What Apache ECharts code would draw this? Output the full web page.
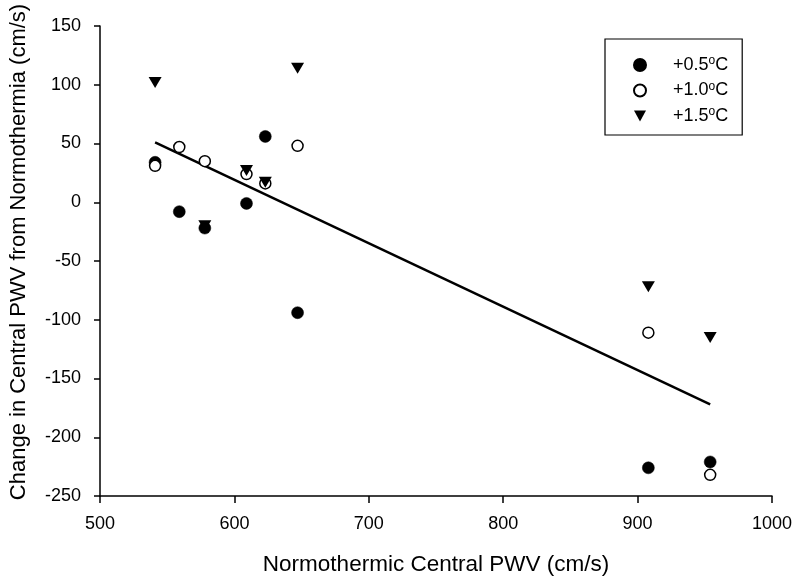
<!DOCTYPE html>
<html>
<head>
<meta charset="utf-8">
<script src="https://cdn.jsdelivr.net/npm/echarts@6/dist/echarts.min.js"></script>
<style>html,body{margin:0;padding:0;background:#fff}#c{width:800px;height:583px}</style>
</head>
<body>
<div id="c"></div>
<script>
// Data
var pwv = [541, 559, 578, 609, 623, 647, 908, 954];
var d05 = [34, -8, -22, -1, 56, -94, -226, -221];
var d10 = [31, 47, 35, 24, 16, 48, -111, -232];
var d15 = [102, null, -20, 27, 17, 114, -72, -115];
var regX = [541, 954];
var regY = [51, -172];
var seriesNames = ['+0.5°C', '+1.0°C', '+1.5°C'];
var legendLabels = ['+0.5', '+1.0', '+1.5'];

var FONT = 'Liberation Sans, Arial, sans-serif';
function pairs(xs, ys) {
  var out = [];
  for (var i = 0; i < xs.length; i++) if (ys[i] !== null) out.push([xs[i], ys[i]]);
  return out;
}
var TRI = 'path://M0,0L12,0L6,11Z';

var chart = echarts.init(document.getElementById('c'), null, {renderer: 'canvas'});
chart.setOption({
  animation: false,
  backgroundColor: '#fff',
  grid: {left: 99, right: 28, top: 26, bottom: 87, containLabel: false},
  xAxis: {
    type: 'value', min: 500, max: 1000, interval: 100,
    name: 'Normothermic Central PWV (cm/s)', nameLocation: 'middle', nameGap: 57,
    nameTextStyle: {fontFamily: FONT, fontSize: 22.5, color: '#000'},
    axisLine: {show: true, onZero: false, lineStyle: {color: '#000', width: 1.5}},
    axisTick: {show: true, inside: false, length: 7, lineStyle: {color: '#000', width: 1.5}},
    axisLabel: {fontFamily: FONT, fontSize: 18, color: '#000', margin: 19,
      formatter: function (v) { return String(v); }},
    splitLine: {show: false}
  },
  yAxis: {
    type: 'value', min: -250, max: 150, interval: 50,
    name: 'Change in Central PWV from Normothermia (cm/s)', nameLocation: 'middle', nameGap: 70,
    nameRotate: 90,
    nameTextStyle: {fontFamily: FONT, fontSize: 22, color: '#000', padding: [0, 0, 0, 18]},
    axisLine: {show: true, onZero: false, lineStyle: {color: '#000', width: 1.5}},
    axisTick: {show: true, inside: false, length: 6, lineStyle: {color: '#000', width: 1.5}},
    axisLabel: {fontFamily: FONT, fontSize: 18, color: '#000', margin: 19,
      formatter: function (v) { return String(v); }},
    splitLine: {show: false}
  },
  legend: {
    data: seriesNames,
    orient: 'vertical', left: 605, top: 39,
    padding: [16, 14, 10, 28],
    itemGap: 6.5, itemWidth: 12, itemHeight: 12,
    borderColor: '#000', borderWidth: 1.2,
    formatter: function (name) {
      var i = seriesNames.indexOf(name);
      return '{g|}{a|' + legendLabels[i] + '}{s|o}{a|C}';
    },
    textStyle: {
      fontFamily: FONT, fontSize: 18, color: '#000',
      rich: {
        g: {width: 22},
        a: {fontFamily: FONT, fontSize: 18, lineHeight: 20, color: '#000'},
        s: {fontFamily: FONT, fontSize: 12, lineHeight: 12, verticalAlign: 'top', color: '#000'}
      }
    }
  },
  series: [
    {
      name: seriesNames[0], type: 'scatter', data: pairs(pwv, d05),
      symbol: 'circle', symbolSize: 12,
      itemStyle: {color: '#000', borderColor: '#000', borderWidth: 0.5, opacity: 1}, z: 3
    },
    {
      name: seriesNames[1], type: 'scatter', data: pairs(pwv, d10),
      symbol: 'circle', symbolSize: 11,
      itemStyle: {color: '#fff', borderColor: '#000', borderWidth: 1.5, opacity: 1}, z: 4
    },
    {
      name: seriesNames[2], type: 'scatter', data: pairs(pwv, d15),
      symbol: TRI, symbolSize: [13, 11],
      itemStyle: {color: '#000', opacity: 1}, z: 5
    },
    {
      name: 'fit', type: 'line', data: pairs(regX, regY),
      symbol: 'none', silent: true,
      lineStyle: {color: '#000', width: 2.5}, z: 2
    }
  ]
});
</script>
</body>
</html>
